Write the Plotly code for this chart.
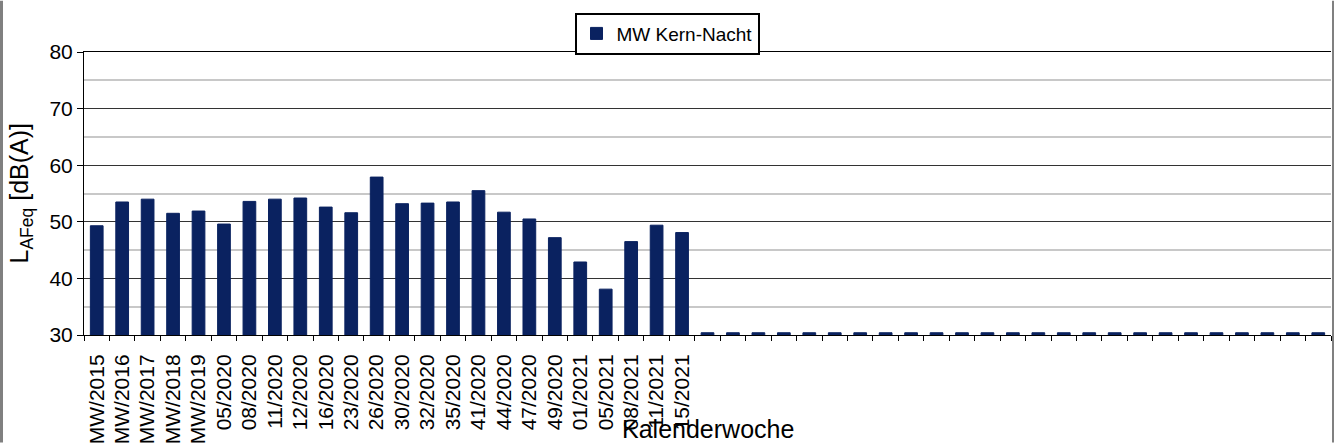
import plotly.graph_objects as go

# ---- data ----
labels = ["MW/2015", "MW/2016", "MW/2017", "MW/2018", "MW/2019", "05/2020", "08/2020",
          "11/2020", "12/2020", "16/2020", "23/2020", "26/2020", "30/2020", "32/2020",
          "35/2020", "41/2020", "44/2020", "47/2020", "49/2020", "01/2021", "05/2021",
          "08/2021", "11/2021", "15/2021"]
values = [49.3, 53.5, 54.0, 51.5, 51.9, 49.6, 53.6, 54.0, 54.2, 52.6, 51.6, 57.9,
          53.2, 53.3, 53.5, 55.5, 51.7, 50.5, 47.2, 42.9, 38.1, 46.5, 49.4, 48.1]
n_empty = 25
empty_values = [30.4] * n_empty
empty_labels = [""] * n_empty

all_labels = labels + empty_labels
all_values = values + empty_values
positions = list(range(len(all_labels)))
boundaries = [p - 0.5 for p in positions] + [positions[-1] + 0.5]

navy = "#0A2260"
font = "Liberation Sans, Arial, sans-serif"

fig = go.Figure()
fig.add_trace(go.Bar(
    x=positions, y=all_values, name="MW Kern-Nacht",
    marker=dict(color=navy, line=dict(color=navy, width=1)),
    width=0.5,
))

L, R, T, B = 84, 4, 52, 109
W, H = 1335, 448
pw, ph = W - L - R, H - T - B

fig.update_layout(
    width=W, height=H,
    margin=dict(l=L, r=R, t=T, b=B),
    paper_bgcolor="white", plot_bgcolor="white",
    font=dict(family=font, color="black", size=19),
    showlegend=True,
    legend=dict(
        x=(667 - L) / pw, xanchor="center",
        y=(H - B - 12) / ph, yanchor="top",
        bgcolor="white", bordercolor="black", borderwidth=2,
        font=dict(size=19, family=font),
        itemwidth=30,
    ),
    xaxis=dict(
        range=[-0.5, len(all_labels) - 0.5],
        tickmode="array", tickvals=positions, ticktext=all_labels,
        tickangle=-90, ticks="", ticklabelstandoff=10,
        tickfont=dict(size=21, family=font),
        showline=True, linecolor="black", linewidth=1, mirror=True,
        showgrid=False, zeroline=False,
        minor=dict(tickmode="array", tickvals=boundaries, ticks="outside",
                   ticklen=5, tickcolor="black", showgrid=False),
    ),
    yaxis=dict(
        range=[30, 80], dtick=10, tick0=30,
        ticks="outside", ticklen=6, tickcolor="black",
        tickfont=dict(size=21, family=font),
        showline=True, linecolor="black", linewidth=1,
        showgrid=True, gridcolor="#333333", gridwidth=1,
        zeroline=False,
        minor=dict(dtick=5, showgrid=True, gridcolor="#C8C8C8", gridwidth=2, ticks=""),
    ),
)

# axis titles as annotations
fig.add_annotation(
    text="Kalenderwoche", xref="paper", yref="paper",
    x=0.5, y=-(434 - (H - B)) / ph, xanchor="center", yanchor="middle",
    showarrow=False, font=dict(size=25, family=font),
)
fig.add_annotation(
    text="L<sub>AFeq</sub> [dB(A)]", xref="paper", yref="paper",
    x=-(L - 20) / pw, y=0.5, xanchor="center", yanchor="middle",
    textangle=-90, showarrow=False, font=dict(size=25, family=font),
)

# chart frame (left and right gray edges)
fig.add_shape(type="line", xref="paper", yref="paper",
              x0=-(L - 1.5) / pw, x1=-(L - 1.5) / pw, y0=-B / ph, y1=(H - B) / ph,
              line=dict(color="#808080", width=3))
fig.add_shape(type="line", xref="paper", yref="paper",
              x0=(1333 - L) / pw, x1=(1333 - L) / pw, y0=-B / ph, y1=(H - B) / ph,
              line=dict(color="#808080", width=2))

fig.write_html("out.html", config={"displayModeBar": False},
               post_script="document.body.style.margin='0';document.body.style.overflow='hidden';")
